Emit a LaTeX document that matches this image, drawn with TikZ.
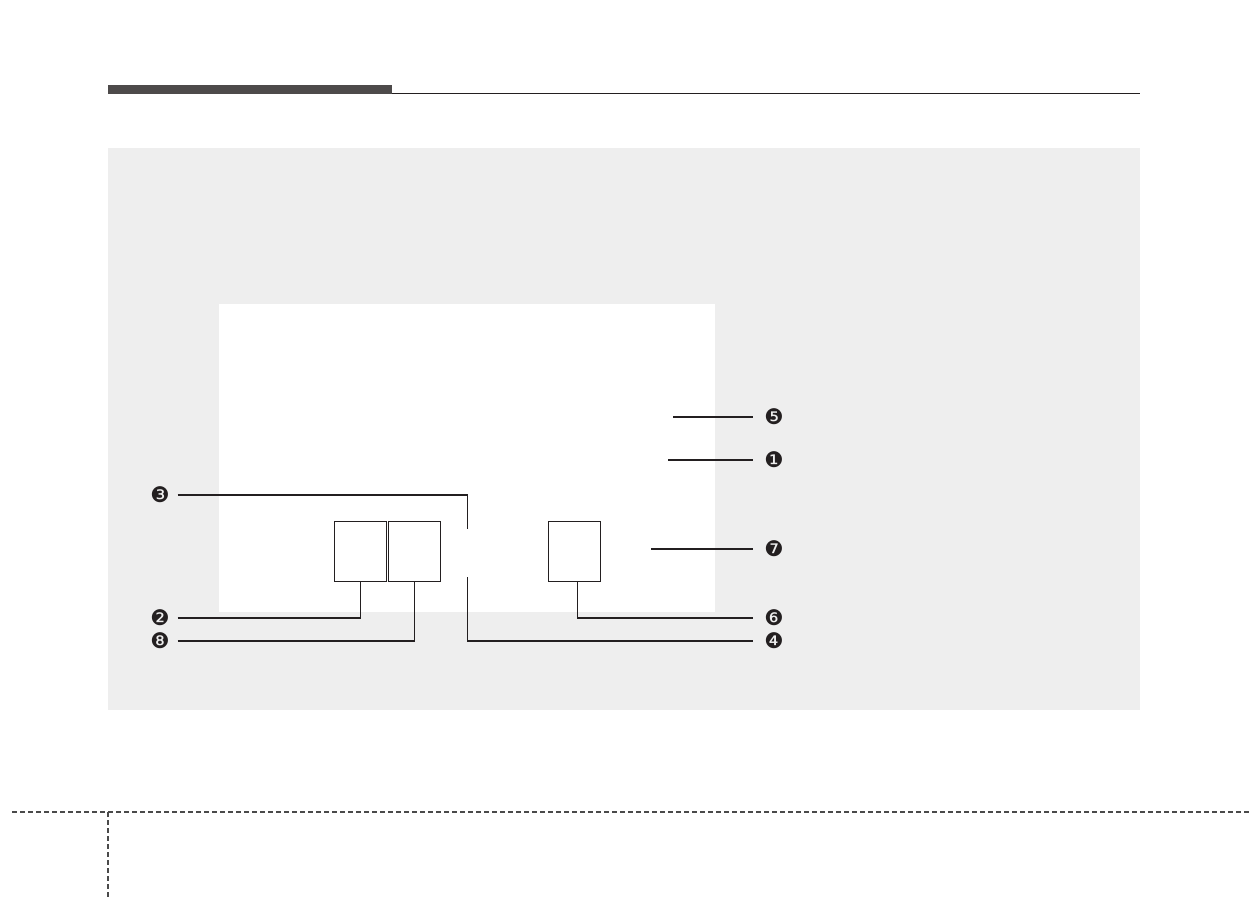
\documentclass[tikz,border=0pt]{standalone}
\usepackage{fontspec}
\newfontfamily\dingfont{DejaVu Sans}
\definecolor{panel}{HTML}{EEEEEE}
\definecolor{bar}{HTML}{4D4A4A}
\definecolor{rule}{HTML}{4A4A4A}
\definecolor{ink}{HTML}{231F20}

\begin{document}
\begin{tikzpicture}[x=1pt,y=-1pt,
    num/.style={inner sep=0pt,outer sep=8pt,font=\dingfont\fontsize{21.5}{21.5}\selectfont,text=ink},
    rnum/.style={num,outer sep=11pt},
    box/.style={draw=ink,line width=1.2pt,inner sep=0pt,minimum width=52pt,minimum height=60pt},
    lead/.style={draw=ink,line width=1.2pt}]
        \useasboundingbox (0,0) rectangle (1249,897);

        \fill[bar] (108,85) rectangle (392,94);
        \draw[ink,line width=1.2pt] (392,93.4) -- (1140,93.4);

        \fill[panel] (108,148) rectangle (1140,710);
        \fill[white] (219,304) rectangle (715,612);

        \draw[rule,line width=2pt,dash pattern=on 5pt off 3pt] (12,812) -- (1249,812);
        \draw[rule,line width=2pt,dash pattern=on 5pt off 3pt] (108,812) -- (108,897);

        \node[box] (BA) at (360.5,551.3) {};
        \node[box] (BB) at (414.5,551.8) {};
        \node[box] (BC) at (574.5,551.5) {};

        \node[num] (n3) at (160,495) {❸};
        \node[num] (n2) at (160,618) {❷};
        \node[num] (n8) at (160,641) {❽};
        \node[rnum] (n5) at (774,417) {❺};
        \node[rnum] (n1) at (774,460) {❶};
        \node[rnum] (n7) at (774,549) {❼};
        \node[rnum] (n6) at (774,618) {❻};
        \node[rnum] (n4) at (774,641) {❹};

        \coordinate (T3) at (467.7,529);
        \coordinate (T4) at (467.7,577);
        \coordinate (E5) at (673,417);
        \coordinate (E1) at (668,460);
        \coordinate (E7) at (651,549);

        \draw[lead] (n3) -| (T3);
        \draw[lead] (n2) -| (BA.south);
        \draw[lead] (n8) -| (BB.south);
        \draw[lead] (T4) |- (n4);
        \draw[lead] ([xshift=3pt]BC.south) |- (n6);
        \draw[lead] (E5) -- (n5);
        \draw[lead] (E1) -- (n1);
        \draw[lead] (E7) -- (n7);
      \end{tikzpicture}
\end{document}
